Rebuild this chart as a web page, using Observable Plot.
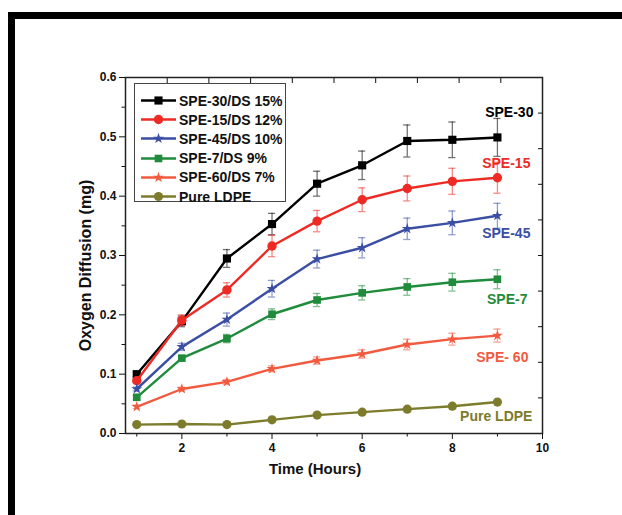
<!DOCTYPE html>
<html>
<head>
<meta charset="utf-8">
<script src="https://cdn.jsdelivr.net/npm/d3@7"></script>
<script src="https://cdn.jsdelivr.net/npm/@observablehq/plot@0.6"></script>
<style>
  html, body { margin: 0; padding: 0; background: #fff; }
  #wrap { position: relative; width: 622px; height: 515px; overflow: hidden; font-family: "Liberation Sans", Arial, sans-serif; }
  #frame { position: absolute; left: 8px; top: 12px; right: -10px; bottom: -10px; border-top: 7px solid #000; border-left: 7px solid #000; pointer-events: none; }
  #legend { position: absolute; left: 134px; top: 83px; width: 152px; height: 119px; border: 1px solid #444; background: #fff; box-sizing: border-box; }
  .row { position: absolute; left: 0; height: 19px; display: flex; align-items: center; }
  .row span { font-size: 14px; font-weight: bold; color: #111; margin-left: 2px; white-space: nowrap; }
</style>
</head>
<body>
<div id="wrap"><div id="chart"></div><div id="legend"></div><div id="frame"></div></div>
<script>
const time = [1, 2, 3, 4, 5, 6, 7, 8, 9];
const seriesNames = ["SPE-30/DS 15%", "SPE-15/DS 12%", "SPE-45/DS 10%", "SPE-7/DS 9%", "SPE-60/DS 7%", "Pure LDPE"];
const shortLabels = ["SPE-30", "SPE-15", "SPE-45", "SPE-7", "SPE- 60", "Pure LDPE"];
const spe30 = [0.100, 0.189, 0.295, 0.353, 0.421, 0.452, 0.493, 0.495, 0.499];
const spe30Err = [0.004, 0.009, 0.015, 0.018, 0.021, 0.024, 0.027, 0.030, 0.032];
const spe15 = [0.089, 0.191, 0.242, 0.316, 0.358, 0.394, 0.413, 0.425, 0.431];
const spe15Err = [0.004, 0.009, 0.012, 0.018, 0.018, 0.020, 0.021, 0.022, 0.026];
const spe45 = [0.075, 0.146, 0.192, 0.244, 0.294, 0.313, 0.345, 0.355, 0.367];
const spe45Err = [0.003, 0.006, 0.011, 0.014, 0.015, 0.017, 0.018, 0.020, 0.021];
const spe7 = [0.061, 0.127, 0.160, 0.201, 0.225, 0.237, 0.247, 0.255, 0.260];
const spe7Err = [0.003, 0.004, 0.007, 0.009, 0.011, 0.012, 0.014, 0.015, 0.016];
const spe60 = [0.045, 0.075, 0.087, 0.109, 0.123, 0.134, 0.150, 0.159, 0.165];
const spe60Err = [0.003, 0.003, 0.004, 0.005, 0.006, 0.007, 0.009, 0.010, 0.011];
const ldpe = [0.015, 0.016, 0.015, 0.023, 0.031, 0.036, 0.041, 0.046, 0.053];
const ldpeErr = [0.001, 0.001, 0.001, 0.001, 0.001, 0.001, 0.001, 0.001, 0.001];
const xTickLabels = [2, 4, 6, 8, 10];
const xMinorTicks = [1, 3, 5, 7, 9];
const yTickLabels = [0, 0.1, 0.2, 0.3, 0.4, 0.5, 0.6];
const yMinorTicks = [0.05, 0.15, 0.25, 0.35, 0.45, 0.55];

// styling (not data)
const styles = [
  {color: "#000000", symbol: "square", r: 4.6, dx: 36, dy: -25},
  {color: "#ee2a24", symbol: "circle", r: 4.7, dx: 33, dy: -14},
  {color: "#3a4ea3", symbol: "star", r: 3.4, dx: 33, dy: 18},
  {color: "#1f8b3b", symbol: "square", r: 4.3, dx: 30, dy: 20},
  {color: "#f25a3f", symbol: "star", r: 3.4, dx: 31, dy: 22},
  {color: "#7c7c2c", symbol: "circle", r: 4.6, dx: 35, dy: 14}
];

const values = [spe30, spe15, spe45, spe7, spe60, ldpe];
const errors = [spe30Err, spe15Err, spe45Err, spe7Err, spe60Err, ldpeErr];
const xDomain = [0.75, 10];
const yDomain = [0, 0.6];
const topTicks = d3.range(1, 10).map(i => xDomain[0] + i * (xDomain[1] - xDomain[0]) / 10);
const rightTicks = d3.range(1, 10).map(i => yDomain[0] + i * (yDomain[1] - yDomain[0]) / 10);

const seriesMarks = [];
values.forEach((vals, si) => {
  const st = styles[si];
  const rows = time.map((t, i) => ({x: t, y: vals[i], lo: vals[i] - errors[si][i], hi: vals[i] + errors[si][i]}));
  seriesMarks.push(
    Plot.ruleX(rows, {x: "x", y1: "lo", y2: "hi", stroke: st.color, strokeOpacity: 0.55, strokeWidth: 1.3}),
    Plot.ruleY(rows, {y: "hi", x1: d => d.x - 0.08, x2: d => d.x + 0.08, stroke: st.color, strokeOpacity: 0.55, strokeWidth: 1.3}),
    Plot.ruleY(rows, {y: "lo", x1: d => d.x - 0.08, x2: d => d.x + 0.08, stroke: st.color, strokeOpacity: 0.55, strokeWidth: 1.3}),
    Plot.line(rows, {x: "x", y: "y", stroke: st.color, strokeWidth: 2.4}),
    Plot.dot(rows, {x: "x", y: "y", symbol: () => st.symbol, fill: st.color, r: st.r}),
    Plot.text([rows[rows.length - 1]], {x: "x", y: "y", text: () => shortLabels[si], fill: st.color, textAnchor: "end", dx: st.dx, dy: st.dy, fontSize: 14, fontWeight: "bold"})
  );
});

const tickFont = {fontSize: 12, fontWeight: "bold", fill: "#111"};

const chart = Plot.plot({
  width: 622,
  height: 515,
  marginLeft: 125,
  marginRight: 80,
  marginTop: 77,
  marginBottom: 82,
  style: {fontFamily: "'Liberation Sans', Arial, sans-serif", background: "transparent", color: "#111"},
  x: {domain: xDomain},
  y: {domain: yDomain},
  marks: [
    Plot.axisX({ticks: xTickLabels, anchor: "bottom", tickSize: 6, tickPadding: 4, tickFormat: d => String(d), label: null, ...tickFont}),
    Plot.axisX({ticks: xMinorTicks, anchor: "bottom", tickSize: 3.5, tickFormat: () => "", label: null}),
    Plot.axisX({ticks: topTicks, anchor: "top", tickSize: 5, dy: 5, tickFormat: () => "", label: null}),
    Plot.axisY({ticks: yTickLabels, anchor: "left", tickSize: 6, tickPadding: 3, tickFormat: d3.format(".1f"), label: null, ...tickFont}),
    Plot.axisY({ticks: yMinorTicks, anchor: "left", tickSize: 3.5, tickFormat: () => "", label: null}),
    Plot.axisY({ticks: rightTicks, anchor: "right", tickSize: 5, dx: -5, tickFormat: () => "", label: null}),
    Plot.frame({stroke: "#222", strokeWidth: 1.5}),
    Plot.text(["Time (Hours)"], {frameAnchor: "bottom", textAnchor: "middle", dx: -19, dy: 40, fontSize: 15, fontWeight: "bold", fill: "#111"}),
    Plot.text(["Oxygen Diffusion (mg)"], {frameAnchor: "left", textAnchor: "middle", dx: -40, dy: 10, rotate: -90, fontSize: 16, fontWeight: "bold", fill: "#111"}),
    ...seriesMarks
  ]
});
document.getElementById("chart").appendChild(chart);

// legend
const legend = d3.select("#legend");
seriesNames.forEach((name, i) => {
  const st = styles[i];
  const row = legend.append("div").attr("class", "row").style("top", (7 + i * 19.2) + "px").style("left", "5px");
  const svg = row.append("svg").attr("width", 37).attr("height", 19);
  svg.append("line").attr("x1", 1).attr("x2", 36).attr("y1", 9.5).attr("y2", 9.5).attr("stroke", st.color).attr("stroke-width", 2.4);
  const symType = {square: d3.symbolSquare, circle: d3.symbolCircle, star: d3.symbolStar}[st.symbol];
  svg.append("path").attr("transform", "translate(18.5,9.5)").attr("d", d3.symbol(symType, Math.PI * st.r * st.r)()).attr("fill", st.color);
  row.append("span").text(name);
});
</script>
</body>
</html>
